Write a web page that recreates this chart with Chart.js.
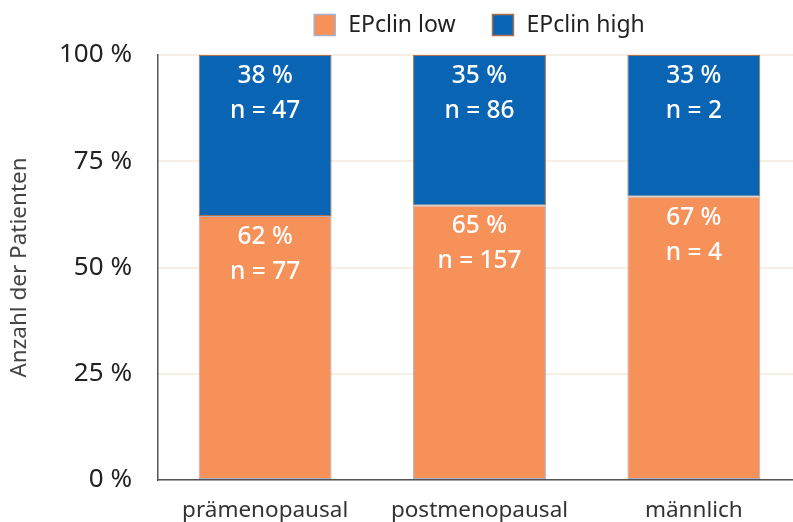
<!DOCTYPE html>
<html>
<head>
<meta charset="utf-8">
<script src="https://cdn.jsdelivr.net/npm/chart.js@4"></script>
<style>
  body { margin: 0; background: #fff; overflow: hidden; }
  /* the plot runs slightly past the right edge in the original */
  #wrap { width: 793px; height: 522px; overflow: hidden; }
</style>
</head>
<body>
<div id="wrap"><canvas id="myChart" width="801" height="522"></canvas></div>
<script>
const groups = ["prämenopausal", "postmenopausal", "männlich"];
const lowPct = [62.1, 64.6, 66.7];
const highPct = [37.9, 35.4, 33.3];
const lowN = [77, 157, 4];
const highN = [47, 86, 2];
const yTicks = [0, 25, 50, 75, 100];

const FONT = "'Noto Sans', 'Open Sans', sans-serif";

// writes "xx %" and "n = .." inside the top of each segment
const segLabels = {
  id: "segLabels",
  afterDatasetsDraw(chart) {
    const ctx = chart.ctx;
    ctx.save();
    ctx.fillStyle = "#ffffff";
    ctx.font = "500 24.5px " + FONT;
    ctx.textAlign = "center";
    ctx.textBaseline = "middle";
    chart.data.datasets.forEach(function (ds, di) {
      const counts = di === 0 ? lowN : highN;
      chart.getDatasetMeta(di).data.forEach(function (bar, i) {
        ctx.fillText(Math.round(ds.data[i]) + " %", bar.x, bar.y + 21);
        ctx.fillText("n = " + counts[i], bar.x, bar.y + 56);
      });
    });
    ctx.restore();
  }
};

// legend drawn by hand so the gaps match the original
const topLegend = {
  id: "topLegend",
  afterDraw(chart) {
    const ctx = chart.ctx;
    const dsets = chart.data.datasets;
    const box = 21, gapText = 13, gapItem = 37, y = 25;
    ctx.save();
    ctx.font = "23px " + FONT;
    ctx.textBaseline = "middle";
    let total = 0;
    dsets.forEach((ds, i) => {
      total += box + gapText + ctx.measureText(ds.label).width;
      if (i < dsets.length - 1) total += gapItem;
    });
    let x = (chart.chartArea.left + chart.chartArea.right) / 2 - total / 2;
    dsets.forEach(ds => {
      ctx.fillStyle = ds.backgroundColor;
      ctx.fillRect(x, y - box / 2, box, box);
      ctx.strokeStyle = ds.borderColor;
      ctx.lineWidth = 1.5;
      ctx.strokeRect(x, y - box / 2, box, box);
      x += box + gapText;
      ctx.fillStyle = "#222";
      ctx.fillText(ds.label, x, y);
      x += ctx.measureText(ds.label).width + gapItem;
    });
    ctx.restore();
  }
};

new Chart("myChart", {
  type: "bar",
  data: {
    labels: groups,
    datasets: [{
      label: "EPclin low",
      data: lowPct,
      backgroundColor: "#f6915a",
      borderColor: "#a9b0c8",
      borderWidth: 1,
      borderSkipped: false
    }, {
      label: "EPclin high",
      data: highPct,
      backgroundColor: "#0a64b4",
      borderColor: "#b0704a",
      borderWidth: 1,
      borderSkipped: false
    }]
  },
  options: {
    responsive: false,
    animation: false,
    layout: { padding: { top: 55, right: 0, bottom: -11, left: 6 } },
    datasets: { bar: { barPercentage: 0.62, categoryPercentage: 1 } },
    plugins: {
      legend: { display: false },
      tooltip: { enabled: false }
    },
    scales: {
      x: {
        stacked: true,
        grid: { display: false },
        border: { color: "#555", width: 1.5 },
        ticks: { color: "#333", font: { family: FONT, size: 22.5 }, padding: 9 }
      },
      y: {
        stacked: true,
        min: 0,
        max: 100,
        afterBuildTicks(axis) { axis.ticks = yTicks.map(v => ({ value: v })); },
        grid: { color: "#f8efe4", lineWidth: 2, drawTicks: false },
        border: { color: "#555", width: 1.5 },
        ticks: {
          color: "#222",
          font: { family: FONT, size: 26 },
          padding: 26,
          callback: v => v + " %"
        },
        title: {
          display: true,
          text: "Anzahl der Patienten",
          color: "#444",
          font: { family: FONT, size: 22.5 },
          padding: { top: 0, bottom: 0 }
        }
      }
    }
  },
  plugins: [segLabels, topLegend]
});
</script>
</body>
</html>
